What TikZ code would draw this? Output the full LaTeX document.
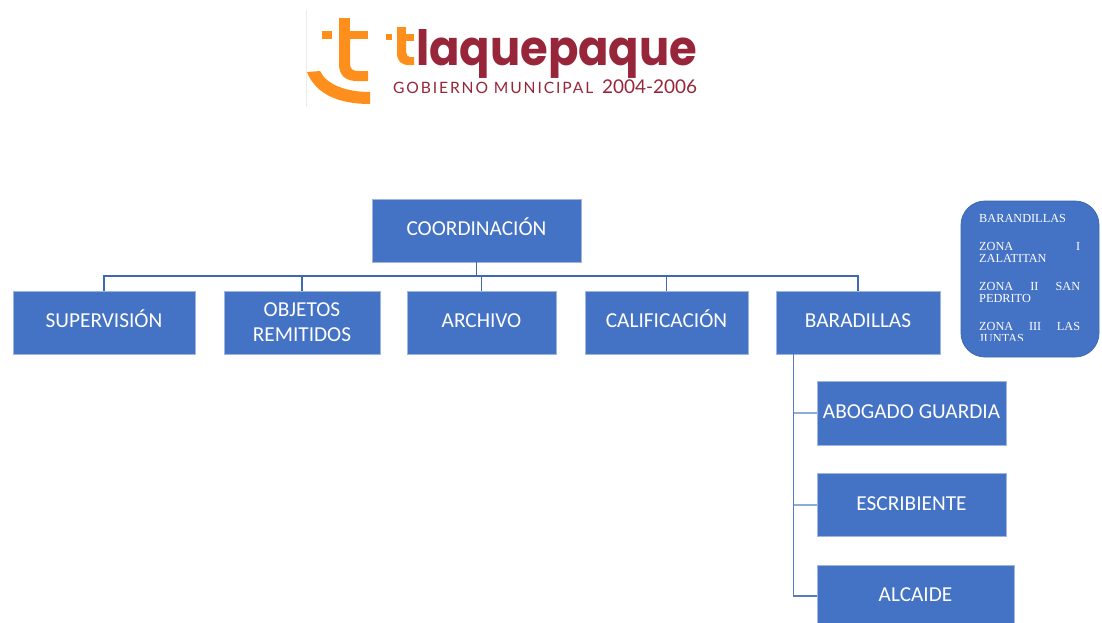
\documentclass[tikz,border=0pt]{standalone}
\usepackage{fontspec}
\setmainfont{Carlito}
\newfontfamily\serifbox{Liberation Serif}
\newfontfamily\logobold{Poppins}
\newfontfamily\logolight{Lato}[LetterSpace=12]
\definecolor{boxblue}{HTML}{4472C4}
\definecolor{boxedge}{HTML}{9DB5E0}
\definecolor{busblue}{HTML}{3E68B0}
\definecolor{lineblue}{HTML}{8FAADC}
\definecolor{logoorange}{HTML}{FF8F1C}
\definecolor{logored}{HTML}{98263A}
\tikzset{
  orgbox/.style={fill=boxblue,draw=boxedge,line width=0.5pt,text=white,font=\fontsize{21.3}{25}\selectfont,align=center,inner sep=0pt,minimum height=63pt},
  oneline/.style={text height=16pt,text depth=5.3pt},
  busline/.style={draw=busblue,line width=1.2pt},
  childline/.style={draw=lineblue,line width=1.8pt},
  logot/.style={fill=logoorange,draw=none},
  zonebox/.style={fill=boxblue,draw=busblue,line width=0.8pt,rounded corners=24pt,inner sep=0pt,minimum width=138pt,minimum height=156pt}
}
\begin{document}
\begin{tikzpicture}[x=1pt,y=-1pt]
\useasboundingbox (0,0) rectangle (1102,622);
\fill[white] (0,0) rectangle (1102,622);
% logo
\draw[black!8,line width=0.6pt] (306,10) -- (306,107);
\fill[logot] (339,18) rectangle (350,31);
\fill[logot] (322,31) rectangle (332,39);
\fill[logot] (339,31) rectangle (368,39);
\fill[logot] (339,39) -- (350,39) -- (350,64) .. controls (350,69) and (353,71) .. (358,71) -- (368,71) -- (368,81) -- (357,81) .. controls (345,81) and (339,75) .. (339,64) -- cycle;
\fill[logot] (307,72) -- (320,71) .. controls (326,84) and (345,92) .. (370,92) -- (370,104) .. controls (340,104) and (316,95) .. (307,72) -- cycle;
\fill[logot] (386,34) rectangle (392,40);
\fill[logot] (397,27) rectangle (406,34);
\fill[logot] (397,34) rectangle (414,41);
\fill[logot] (397,41) -- (406,41) -- (406,52) .. controls (406,55) and (408,57) .. (410,57) -- (414,57) -- (414,65) -- (409,65) .. controls (401,65) and (397,61) .. (397,53) -- cycle;
\node[anchor=base west,inner sep=0pt,text=logored] (logoword) at (416,65)
  {\resizebox{281pt}{36pt}{\logobold\bfseries laquepaque}};
\node[anchor=west,inner sep=0pt,text=logored] (logosub) at (393,87.5)
  {\resizebox{200pt}{!}{\logolight GOBIERNO MUNICIPAL}};
\node[anchor=west,inner sep=0pt,text=logored] (logoyear) at (602,87)
  {\resizebox{95pt}{!}{\fontspec{Lato}2004-2006}};
% boxes
\node[orgbox,oneline,minimum width=209pt] (coord) at (476.5,230.5) {COORDINACIÓN};
\node[orgbox,oneline,minimum width=182pt] (sup) at (104,322.5) {SUPERVISIÓN};
\node[orgbox,minimum width=156pt] (obj) at (302,322.5) {OBJETOS\\REMITIDOS};
\node[orgbox,oneline,minimum width=149pt] (arch) at (481.5,322.5) {ARCHIVO};
\node[orgbox,oneline,minimum width=163pt] (cal) at (666.5,322.5) {CALIFICACIÓN};
\node[orgbox,oneline,minimum width=164pt] (bar) at (858,322.5) {BARADILLAS};
\node[orgbox,oneline,minimum width=189pt,minimum height=64pt] (abo) at (911.5,413) {ABOGADO GUARDIA};
\node[orgbox,oneline,minimum width=189pt] (esc) at (911.5,505) {ESCRIBIENTE};
\node[orgbox,oneline,minimum width=197pt,minimum height=62pt] (alc) at (915.5,596) {ALCAIDE};
\node[zonebox] (zona) at (1030,279) {};
% connectors
\coordinate (bus) at (476.5,276);
\coordinate (trunk) at (793.5,354);
\draw[busline] (coord.south) -- (bus);
\foreach \t in {sup,obj,arch,cal,bar}{
  \draw[busline] (bus) -| (\t.north);
}
\draw[childline] (trunk) |- (abo.west);
\draw[childline] (trunk) |- (esc.west);
\draw[childline,draw=busblue!70!lineblue] (trunk) |- (alc.west);
% text of the rounded box, cut off at its lower edge as in the reference
\begin{scope}
\clip (975,205) rectangle (1090,340.5);
\node[anchor=north west,inner sep=0pt,text=white,text width=101pt,align=left,
  font=\serifbox\fontsize{12.3}{12}\selectfont] (zonatext) at (979,214.5) {%
  BARANDILLAS\\[16pt]
  \makebox[101pt][s]{ZONA \hfill I}\\
  ZALATITAN\\[16pt]
  \makebox[101pt][s]{ZONA \hfill II \hfill SAN}\\
  PEDRITO\\[16pt]
  \makebox[101pt][s]{ZONA \hfill III \hfill LAS}\\
  JUNTAS};
\end{scope}
\end{tikzpicture}
\end{document}
